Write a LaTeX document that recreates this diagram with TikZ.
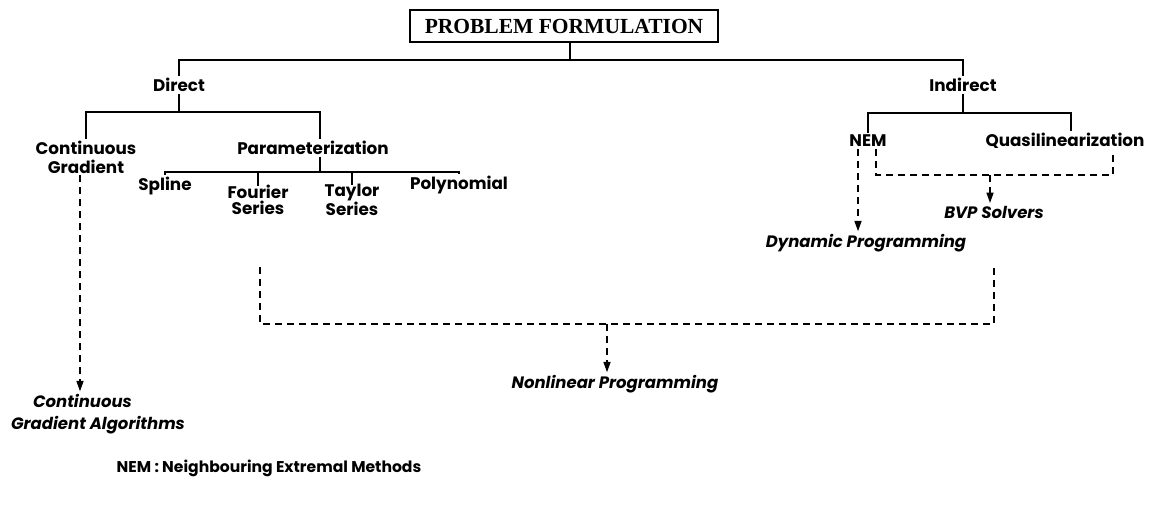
\documentclass[tikz,border=0pt]{standalone}
\usepackage{fontspec}
\setmainfont{Poppins}
\newfontfamily\titlefont{Liberation Serif}
\usetikzlibrary{arrows.meta}
\begin{document}
\begin{tikzpicture}[x=1pt,y=-1pt,
  lbl/.style={font=\fontsize{16.8}{18}\selectfont\bfseries, inner sep=2pt, align=center},
  res/.style={font=\fontsize{16.5}{20}\selectfont\bfseries\itshape, inner sep=2pt, align=center},
  tree/.style={line width=1.7pt},
  dline/.style={line width=2.6pt, dash pattern=on 7pt off 5pt},
  arr/.style={-{Triangle[length=11pt,width=6.5pt]}}]
\useasboundingbox (0,0) rectangle (1153,510);
\fill[white] (0,0) rectangle (1153,510);
% levels
\coordinate (L1) at (0,60);
\coordinate (L2) at (0,112);
\coordinate (L3) at (0,172);
\coordinate (L4) at (0,113);
% nodes
\node[draw, line width=1.7pt, minimum width=308pt, minimum height=32pt, inner sep=0pt,
  font=\titlefont\fontsize{21.5}{24}\selectfont\bfseries] (title) at (564,26) {PROBLEM FORMULATION};
\node[lbl] (direct) at (179,85) {Direct};
\node[lbl] (indirect) at (963,85) {Indirect};
\node[lbl, font=\fontsize{16.8}{19}\selectfont\bfseries] (cg) at (86,157) {Continuous\\Gradient};
\node[lbl] (param) at (313,148) {Parameterization};
\node[lbl] (spline) at (165,186) {Spline};
\node[lbl, font=\fontsize{16.8}{15.5}\selectfont\bfseries] (fourier) at (258,200) {Fourier\\Series};
\node[lbl, font=\fontsize{16.8}{15.5}\selectfont\bfseries] (taylor) at (352,200) {Taylor\\Series};
\node[lbl] (poly) at (459,185) {Polynomial};
\node[lbl] (nem) at (868,141) {NEM};
\node[lbl] (quasi) at (1065,141) {Quasilinearization};
\node[res] (bvp) at (994,212) {BVP Solvers};
\node[res] (dp) at (866,243) {Dynamic Programming};
\node[res] (nlp) at (615,384) {Nonlinear Programming};
\node[res, align=left, font=\fontsize{16.5}{22}\selectfont\bfseries\itshape] (cga) at (98,414) {\hspace*{22pt}Continuous\\Gradient Algorithms};
\node[lbl, font=\fontsize{15.6}{18}\selectfont\bfseries] (legend) at (269,468) {NEM : Neighbouring Extremal Methods};
% tree connectors
\draw[tree] ([xshift=6pt]title.south) -- ([xshift=6pt]title.south |- L1);
\draw[tree] (direct.north) -- (direct.north |- L1) -- (indirect.north |- L1) -- (indirect.north);
\draw[tree] (direct.south) -- (direct.south |- L2);
\draw[tree] (cg.north) -- (cg.north |- L2) -- ([xshift=7pt]param.north |- L2) -- ([xshift=7pt]param.north);
\draw[tree] ([xshift=7pt]param.south) -- ([xshift=7pt]param.south |- L3);
\draw[tree] (spline.north) -- (spline.north |- L3) -- (poly.north |- L3) -- (poly.north);
\draw[tree] (fourier.north |- L3) -- ([yshift=-3pt]fourier.north);
\draw[tree] (taylor.north |- L3) -- ([yshift=-3pt]taylor.north);
\draw[tree] (indirect.south) -- (indirect.south |- L4);
\draw[tree] (nem.north) -- (nem.north |- L4) -- ([xshift=6pt]quasi.north |- L4) -- ([xshift=6pt]quasi.north);
% dashed connectors
\coordinate (fl) at (260,267);
\coordinate (fr) at (994,267);
\coordinate (jl) at (260,324);
\coordinate (jr) at (994,324);
\coordinate (jm) at (607,324);
\draw[dline] (fl) -- (jl) -- (jr) -- (fr);
\draw[dline, arr] (jm) -- (jm |- nlp.north);
\draw[dline, arr] ([xshift=-6pt]cg.south) -- ([xshift=-6pt]cg.south |- cga.north);
\coordinate (bj) at (990,175);
\coordinate (qd) at (1113,150);
\draw[dline, arr] ([xshift=-10pt]nem.south) -- ([xshift=-10pt]nem.south |- dp.north);
\draw[dline] ([xshift=8pt]nem.south) -- ([xshift=8pt]nem.south |- bj) -- (bj -| qd) -- (qd);
\draw[dline, arr] (bj) -- (bj |- bvp.north);
\end{tikzpicture}
\end{document}
